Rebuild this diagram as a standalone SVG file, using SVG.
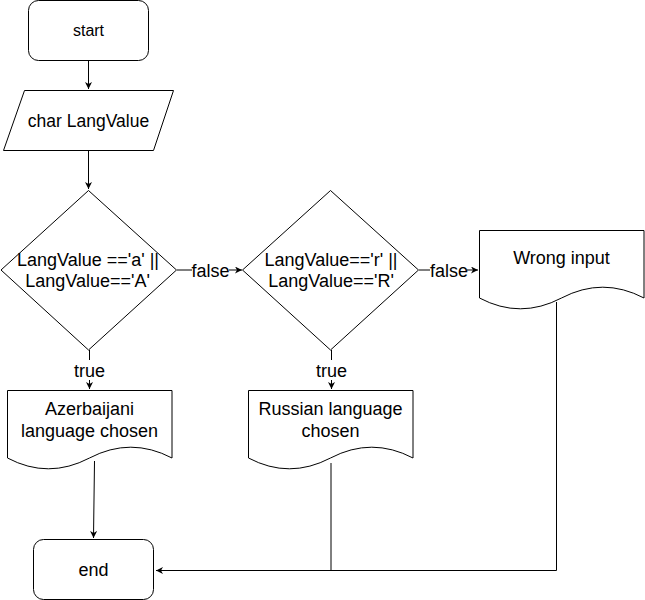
<svg xmlns="http://www.w3.org/2000/svg" width="645" height="600" viewBox="0 0 645 600">
<style>
.shape{fill:#fff;stroke:#000;stroke-width:1}
.t{font-family:"Liberation Sans",Arial,sans-serif;font-size:18px;fill:#000;text-anchor:middle}
.edge{fill:none;stroke:#000;stroke-width:1}
.lbl{fill:#fff;stroke:none}
</style>
<defs>
<marker id="arr" markerWidth="8" markerHeight="8" refX="7" refY="3.5" orient="auto" markerUnits="userSpaceOnUse">
<path d="M0,0 L7,3.5 L0,7 L2,3.5 Z" fill="#000"/>
</marker>
</defs>
<rect width="645" height="600" fill="#fff"/>
<g id="connectors">
<path class="edge" d="M88.5,60.5 V89" marker-end="url(#arr)"/>
<path class="edge" d="M88.5,150.5 V189" marker-end="url(#arr)"/>
<path class="edge" d="M177,270 H242" marker-end="url(#arr)"/>
<rect class="lbl" x="192" y="260" width="37" height="20"/>
<text class="t" x="210.5" y="276.5">false</text>
<path class="edge" d="M419,270 H478" marker-end="url(#arr)"/>
<rect class="lbl" x="430" y="260" width="37" height="20"/>
<text class="t" x="449" y="276.5">false</text>
<path class="edge" d="M89.5,350 V389" marker-end="url(#arr)"/>
<rect class="lbl" x="72" y="360" width="35" height="20"/>
<text class="t" x="89.5" y="376.5">true</text>
<path class="edge" d="M331.5,350 V389" marker-end="url(#arr)"/>
<rect class="lbl" x="314" y="360" width="35" height="20"/>
<text class="t" x="331.5" y="376.5">true</text>
<path class="edge" d="M94.5,461 L93.5,538" marker-end="url(#arr)"/>
<path class="edge" d="M331,463 V570" stroke="#555"/>
<path class="edge" d="M556.5,302 V570.5 H156" stroke-width="2" marker-end="url(#arr)"/>
</g>
<g id="start">
<rect class="shape" x="28.5" y="0.5" width="120" height="60" rx="10"/>
<text class="t" x="88.5" y="36" style="font-size:16px">start</text>
</g>
<g id="input">
<polygon class="shape" points="24.5,90.5 173.5,90.5 153.5,150.5 3.5,150.5"/>
<text class="t" x="88.5" y="127" style="font-size:17.5px">char LangValue</text>
</g>
<g id="decisionA">
<polygon class="shape" points="88.5,190.5 176.5,270 88.5,350 1,270"/>
<text class="t" x="88" y="266">LangValue ==&apos;a&apos; ||</text>
<text class="t" x="87.5" y="287">LangValue==&apos;A&apos;</text>
</g>
<g id="decisionR">
<polygon class="shape" points="330.5,190.5 418.5,270 330.5,350 242.5,270"/>
<text class="t" x="331" y="266">LangValue==&apos;r&apos; ||</text>
<text class="t" x="331" y="287">LangValue==&apos;R&apos;</text>
</g>
<g id="wrong">
<path class="shape" d="M479.5,230.5 H644 V298 Q602.75,276.4 561.5,298 Q520.25,319.6 479.5,298 Z"/>
<text class="t" x="561.5" y="264">Wrong input</text>
</g>
<g id="azerbaijani">
<path class="shape" d="M7.5,390.5 H172 V458 Q130.75,436.4 89.5,458 Q48.25,479.6 7.5,458 Z"/>
<text class="t" x="89.5" y="415">Azerbaijani</text>
<text class="t" x="89.5" y="437">language chosen</text>
</g>
<g id="russian">
<path class="shape" d="M248.5,390.5 H413 V458 Q371.75,436.4 330.5,458 Q289.25,479.6 248.5,458 Z"/>
<text class="t" x="330.5" y="415">Russian language</text>
<text class="t" x="330.5" y="437">chosen</text>
</g>
<g id="end">
<rect class="shape" x="33.5" y="539.5" width="120" height="60" rx="10"/>
<text class="t" x="93.5" y="576">end</text>
</g>
</svg>
